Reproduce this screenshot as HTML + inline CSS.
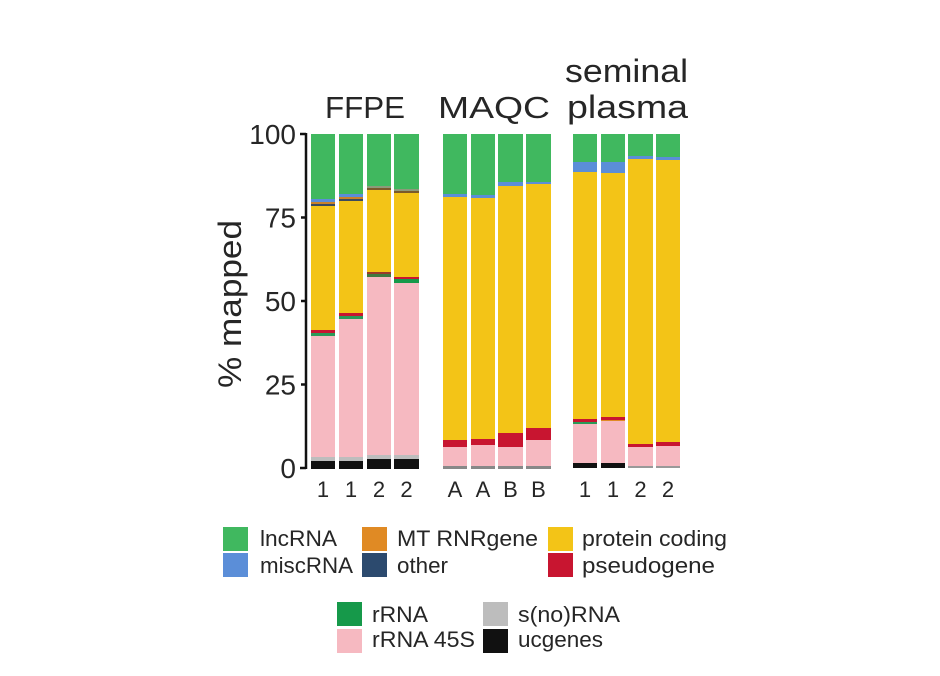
<!DOCTYPE html>
<html>
<head>
<meta charset="utf-8">
<style>
  html, body { margin: 0; padding: 0; background: #ffffff; }
  svg { display: block; }
  text { font-family: "Liberation Sans", "DejaVu Sans", sans-serif; fill: #262626; }
</style>
</head>
<body>
<svg width="940" height="676" viewBox="0 0 940 676" xmlns="http://www.w3.org/2000/svg">
  <rect x="0" y="0" width="940" height="676" fill="#ffffff"/>

  <!-- Titles -->
  <text x="325" y="118" font-size="31" textLength="80" lengthAdjust="spacingAndGlyphs">FFPE</text>
  <text x="438" y="118" font-size="31" textLength="112" lengthAdjust="spacingAndGlyphs">MAQC</text>
  <text x="565" y="82" font-size="32" textLength="123" lengthAdjust="spacingAndGlyphs">seminal</text>
  <text x="567" y="118" font-size="32" textLength="121" lengthAdjust="spacingAndGlyphs">plasma</text>

  <!-- Y axis label -->
  <text transform="translate(241,304) rotate(-90)" text-anchor="middle" font-size="32" textLength="168" lengthAdjust="spacingAndGlyphs">% mapped</text>

  <!-- Y tick labels -->
  <g font-size="28" text-anchor="end">
    <text x="296" y="144">100</text>
    <text x="296" y="227.5">75</text>
    <text x="296" y="311">50</text>
    <text x="296" y="394.5">25</text>
    <text x="296" y="478">0</text>
  </g>

  <!-- Axis -->
  <g stroke="#111" stroke-width="2.5" fill="none">
    <line x1="306" y1="133" x2="306" y2="469"/>
    <line x1="300" y1="134" x2="306" y2="134"/>
    <line x1="301" y1="217.5" x2="306" y2="217.5"/>
    <line x1="301" y1="301" x2="306" y2="301"/>
    <line x1="301" y1="384.5" x2="306" y2="384.5"/>
    <line x1="300" y1="468" x2="306" y2="468"/>
  </g>

  <!-- FFPE bars -->
  <g>
    <!-- bar 1 -->
    <rect x="311" y="134" width="24" height="65" fill="#40b85f"/>
    <rect x="311" y="199" width="24" height="3" fill="#5b8ed8"/>
    <rect x="311" y="202" width="24" height="2" fill="#c9822a"/>
    <rect x="311" y="204" width="24" height="2" fill="#3b4a5e"/>
    <rect x="311" y="206" width="24" height="124" fill="#f3c417"/>
    <rect x="311" y="330" width="24" height="3" fill="#c81530"/>
    <rect x="311" y="333" width="24" height="3" fill="#2a9a58"/>
    <rect x="311" y="336" width="24" height="121" fill="#f6b9c1"/>
    <rect x="311" y="457" width="24" height="4" fill="#bdbdbd"/>
    <rect x="311" y="461" width="24" height="8" fill="#111111"/>
    <!-- bar 2 -->
    <rect x="339" y="134" width="24" height="60" fill="#40b85f"/>
    <rect x="339" y="194" width="24" height="3" fill="#5b8ed8"/>
    <rect x="339" y="197" width="24" height="2" fill="#c9822a"/>
    <rect x="339" y="199" width="24" height="2" fill="#3b4a5e"/>
    <rect x="339" y="201" width="24" height="112" fill="#f3c417"/>
    <rect x="339" y="313" width="24" height="3" fill="#c81530"/>
    <rect x="339" y="316" width="24" height="3" fill="#2a9a58"/>
    <rect x="339" y="319" width="24" height="138" fill="#f6b9c1"/>
    <rect x="339" y="457" width="24" height="4" fill="#bdbdbd"/>
    <rect x="339" y="461" width="24" height="8" fill="#111111"/>
    <!-- bar 3 -->
    <rect x="367" y="134" width="24" height="52" fill="#40b85f"/>
    <rect x="367" y="186" width="24" height="2" fill="#8d9a7a"/>
    <rect x="367" y="188" width="24" height="2" fill="#7a5a2a"/>
    <rect x="367" y="190" width="24" height="82" fill="#f3c417"/>
    <rect x="367" y="272" width="24" height="2" fill="#9a3a2a"/>
    <rect x="367" y="274" width="24" height="3" fill="#3f7a40"/>
    <rect x="367" y="277" width="24" height="178" fill="#f6b9c1"/>
    <rect x="367" y="455" width="24" height="4" fill="#bdbdbd"/>
    <rect x="367" y="459" width="24" height="10" fill="#111111"/>
    <!-- bar 4 -->
    <rect x="394" y="134" width="25" height="55" fill="#40b85f"/>
    <rect x="394" y="189" width="25" height="2" fill="#8d9a7a"/>
    <rect x="394" y="191" width="25" height="2" fill="#7a5a2a"/>
    <rect x="394" y="193" width="25" height="84" fill="#f3c417"/>
    <rect x="394" y="277" width="25" height="2" fill="#c81530"/>
    <rect x="394" y="279" width="25" height="4" fill="#16994a"/>
    <rect x="394" y="283" width="25" height="172" fill="#f6b9c1"/>
    <rect x="394" y="455" width="25" height="4" fill="#bdbdbd"/>
    <rect x="394" y="459" width="25" height="10" fill="#111111"/>
  </g>

  <!-- MAQC bars -->
  <g>
    <rect x="443" y="134" width="24" height="60" fill="#40b85f"/>
    <rect x="443" y="194" width="24" height="3" fill="#5b8ed8"/>
    <rect x="443" y="197" width="24" height="243" fill="#f3c417"/>
    <rect x="443" y="440" width="24" height="7" fill="#c81530"/>
    <rect x="443" y="447" width="24" height="19" fill="#f6b9c1"/>
    <rect x="443" y="466" width="24" height="3" fill="#888888"/>

    <rect x="471" y="134" width="24" height="61" fill="#40b85f"/>
    <rect x="471" y="195" width="24" height="3" fill="#5b8ed8"/>
    <rect x="471" y="198" width="24" height="241" fill="#f3c417"/>
    <rect x="471" y="439" width="24" height="6" fill="#c81530"/>
    <rect x="471" y="445" width="24" height="21" fill="#f6b9c1"/>
    <rect x="471" y="466" width="24" height="3" fill="#888888"/>

    <rect x="498" y="134" width="25" height="48" fill="#40b85f"/>
    <rect x="498" y="182" width="25" height="4" fill="#5b8ed8"/>
    <rect x="498" y="186" width="25" height="247" fill="#f3c417"/>
    <rect x="498" y="433" width="25" height="14" fill="#c81530"/>
    <rect x="498" y="447" width="25" height="19" fill="#f6b9c1"/>
    <rect x="498" y="466" width="25" height="3" fill="#888888"/>

    <rect x="526" y="134" width="25" height="48" fill="#40b85f"/>
    <rect x="526" y="182" width="25" height="2" fill="#5b8ed8"/>
    <rect x="526" y="184" width="25" height="244" fill="#f3c417"/>
    <rect x="526" y="428" width="25" height="12" fill="#c81530"/>
    <rect x="526" y="440" width="25" height="26" fill="#f6b9c1"/>
    <rect x="526" y="466" width="25" height="3" fill="#888888"/>
  </g>

  <!-- Seminal plasma bars -->
  <g>
    <rect x="573" y="134" width="24" height="28" fill="#40b85f"/>
    <rect x="573" y="162" width="24" height="10" fill="#5b8ed8"/>
    <rect x="573" y="172" width="24" height="247" fill="#f3c417"/>
    <rect x="573" y="419" width="24" height="3" fill="#c81530"/>
    <rect x="573" y="422" width="24" height="2" fill="#2a9a58"/>
    <rect x="573" y="424" width="24" height="39" fill="#f6b9c1"/>
    <rect x="573" y="463" width="24" height="5" fill="#111111"/>

    <rect x="601" y="134" width="24" height="28" fill="#40b85f"/>
    <rect x="601" y="162" width="24" height="11" fill="#5b8ed8"/>
    <rect x="601" y="173" width="24" height="244" fill="#f3c417"/>
    <rect x="601" y="417" width="24" height="3" fill="#c81530"/>
    <rect x="601" y="420" width="24" height="1" fill="#e08a24"/>
    <rect x="601" y="421" width="24" height="42" fill="#f6b9c1"/>
    <rect x="601" y="463" width="24" height="5" fill="#111111"/>

    <rect x="628" y="134" width="25" height="22" fill="#40b85f"/>
    <rect x="628" y="156" width="25" height="3" fill="#5b8ed8"/>
    <rect x="628" y="159" width="25" height="285" fill="#f3c417"/>
    <rect x="628" y="444" width="25" height="3" fill="#c81530"/>
    <rect x="628" y="447" width="25" height="19" fill="#f6b9c1"/>
    <rect x="628" y="466" width="25" height="2" fill="#999999"/>

    <rect x="656" y="134" width="24" height="23" fill="#40b85f"/>
    <rect x="656" y="157" width="24" height="3" fill="#5b8ed8"/>
    <rect x="656" y="160" width="24" height="282" fill="#f3c417"/>
    <rect x="656" y="442" width="24" height="4" fill="#c81530"/>
    <rect x="656" y="446" width="24" height="20" fill="#f6b9c1"/>
    <rect x="656" y="466" width="24" height="2" fill="#999999"/>
  </g>

  <!-- X tick labels -->
  <g font-size="22" text-anchor="middle">
    <text x="323" y="497">1</text>
    <text x="351" y="497">1</text>
    <text x="379" y="497">2</text>
    <text x="406.5" y="497">2</text>
    <text x="455" y="497">A</text>
    <text x="483" y="497">A</text>
    <text x="510.5" y="497">B</text>
    <text x="538.5" y="497">B</text>
    <text x="585" y="497">1</text>
    <text x="613" y="497">1</text>
    <text x="640.5" y="497">2</text>
    <text x="668" y="497">2</text>
  </g>

  <!-- Legend 1 -->
  <g>
    <rect x="223" y="527" width="25" height="24" fill="#40b85f"/>
    <rect x="223" y="553" width="25" height="24" fill="#5b8ed8"/>
    <rect x="362" y="527" width="25" height="24" fill="#e08a24"/>
    <rect x="362" y="553" width="25" height="24" fill="#2c4a6e"/>
    <rect x="548" y="527" width="25" height="24" fill="#f3c417"/>
    <rect x="548" y="553" width="25" height="24" fill="#c81530"/>
  </g>
  <g font-size="22">
    <text x="260" y="546" textLength="77" lengthAdjust="spacingAndGlyphs">lncRNA</text>
    <text x="260" y="573" textLength="93" lengthAdjust="spacingAndGlyphs">miscRNA</text>
    <text x="397" y="546" textLength="141" lengthAdjust="spacingAndGlyphs">MT RNRgene</text>
    <text x="397" y="573" textLength="51" lengthAdjust="spacingAndGlyphs">other</text>
    <text x="582" y="546" textLength="145" lengthAdjust="spacingAndGlyphs">protein coding</text>
    <text x="582" y="573" textLength="133" lengthAdjust="spacingAndGlyphs">pseudogene</text>
  </g>

  <!-- Legend 2 -->
  <g>
    <rect x="337" y="602" width="25" height="24" fill="#16994a"/>
    <rect x="337" y="629" width="25" height="24" fill="#f6b9c1"/>
    <rect x="483" y="602" width="25" height="24" fill="#bdbdbd"/>
    <rect x="483" y="629" width="25" height="24" fill="#111111"/>
  </g>
  <g font-size="22">
    <text x="372" y="622" textLength="56" lengthAdjust="spacingAndGlyphs">rRNA</text>
    <text x="372" y="647" textLength="103" lengthAdjust="spacingAndGlyphs">rRNA 45S</text>
    <text x="518" y="622" textLength="102" lengthAdjust="spacingAndGlyphs">s(no)RNA</text>
    <text x="518" y="647" textLength="85" lengthAdjust="spacingAndGlyphs">ucgenes</text>
  </g>
</svg>
</body>
</html>
